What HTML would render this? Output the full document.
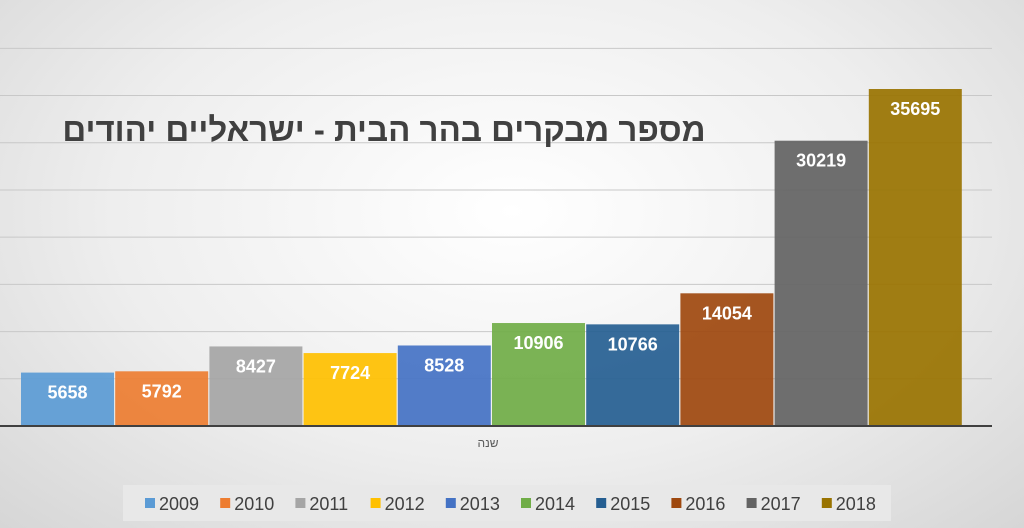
<!DOCTYPE html>
<html><head><meta charset="utf-8"><style>
body{margin:0;width:1024px;height:528px;overflow:hidden;background:radial-gradient(ellipse at 50% 40%,#ffffff 0%,#eeeeee 55%,#d6d6d6 100%);font-family:"Liberation Sans","DejaVu Sans",sans-serif}
svg{position:absolute;left:0;top:0}
</style></head><body>
<svg width="1024" height="528">
<g id="grid"></g>
<g id="bars"></g>
<line x1="0" x2="992" y1="426" y2="426" stroke="#404040" stroke-width="2"/>
<text x="384" y="141" text-anchor="middle" font-size="33" font-weight="bold" fill="#404040" font-family="Liberation Sans, DejaVu Sans, sans-serif">מספר מבקרים בהר הבית - ישראליים יהודים</text>
<text x="488" y="447" text-anchor="middle" font-size="12" fill="#595959">שנה</text>
<rect x="123" y="485" width="768" height="36" fill="#e8e8e8"/>
<g id="legend"></g>
</svg>
<script>
const years=["2009","2010","2011","2012","2013","2014","2015","2016","2017","2018"];
const visitors=[5658,5792,8427,7724,8528,10906,10766,14054,30219,35695];
const colors=["#5b9bd5","#ed7d31","#a5a5a5","#ffc000","#4472c4","#70ad47","#255e91","#9e480e","#636363","#997300"];
const gridTicks=[5000,10000,15000,20000,25000,30000,35000,40000];
const NS="http://www.w3.org/2000/svg";
const base=426, scale=337/35695, x0=21, step=94.2, bw=93;
const y=v=>base-v*scale;
const grid=document.getElementById('grid');
gridTicks.forEach(t=>{const l=document.createElementNS(NS,'line');
l.setAttribute('x1',0);l.setAttribute('x2',992);l.setAttribute('y1',y(t));l.setAttribute('y2',y(t));
l.setAttribute('stroke','#c8c8c8');l.setAttribute('stroke-width','1');


grid.appendChild(l);});
const bars=document.getElementById('bars');
visitors.forEach((v,i)=>{const r=document.createElementNS(NS,'rect');
const x=x0+i*step;
r.setAttribute('x',x);r.setAttribute('y',y(v));r.setAttribute('width',bw);r.setAttribute('height',base-y(v));
r.setAttribute('fill',colors[i]);r.setAttribute('opacity','0.92');


bars.appendChild(r);
const t=document.createElementNS(NS,'text');
t.setAttribute('x',x+bw/2);t.setAttribute('y',y(v)+26);t.setAttribute('text-anchor','middle');
t.setAttribute('font-size','18');t.setAttribute('font-weight','bold');t.setAttribute('fill','#ffffff');
t.textContent=v;


bars.appendChild(t);});
const lg=document.getElementById('legend');
years.forEach((yr,i)=>{const lx=145+i*75.2;
const s=document.createElementNS(NS,'rect');
s.setAttribute('x',lx);s.setAttribute('y',498);s.setAttribute('width',10);s.setAttribute('height',10);s.setAttribute('fill',colors[i]);


lg.appendChild(s);
const t=document.createElementNS(NS,'text');
t.setAttribute('x',lx+14);t.setAttribute('y',510);t.setAttribute('font-size','18');t.setAttribute('fill','#404040');
t.textContent=yr;


lg.appendChild(t);});
</script>
</body></html>
